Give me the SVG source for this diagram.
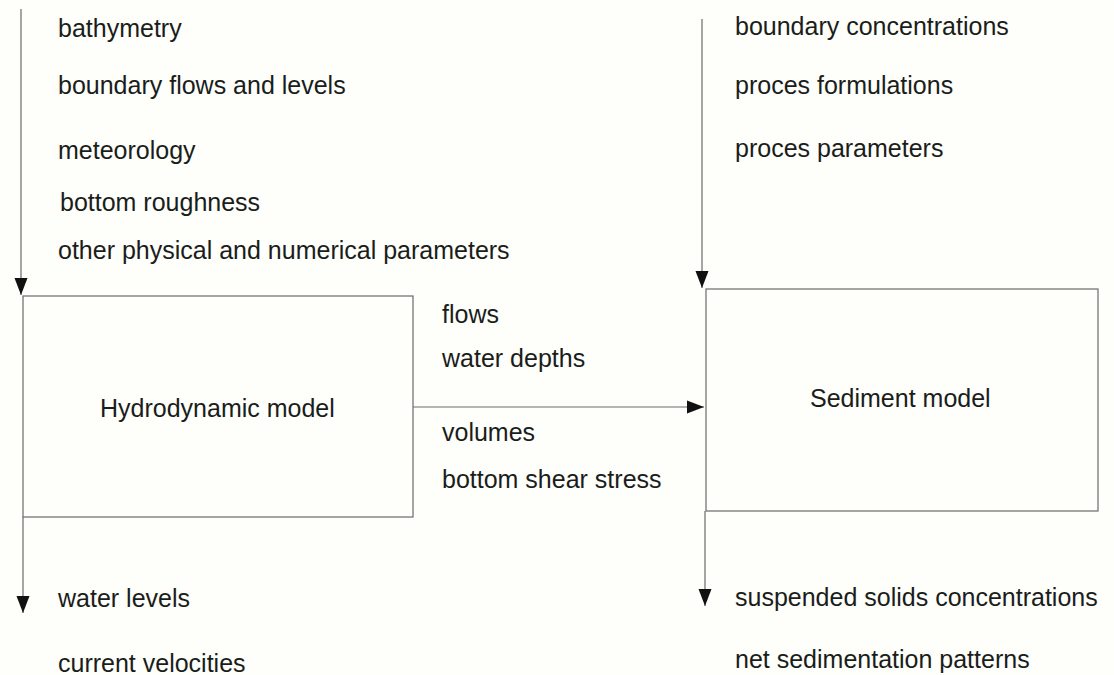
<svg xmlns="http://www.w3.org/2000/svg" width="1114" height="675" viewBox="0 0 1114 675">
  <style>
    .t { font-family: "Liberation Sans", Arial, sans-serif; font-size: 25px; fill: #1a1d1a; }
    .box { fill: none; stroke: #6a6a6a; stroke-width: 1.2; }
    .ln { fill: none; stroke: #6a6a6a; stroke-width: 1.2; }
  </style>
  <defs>
    <marker id="arr" markerUnits="userSpaceOnUse" markerWidth="18" markerHeight="14" refX="17" refY="7" orient="auto" viewBox="0 0 18 14">
      <path d="M0,0.5 L17,7 L0,13.5 z" fill="#111"/>
    </marker>
  </defs>
  <rect width="1114" height="675" fill="#fefefa"/>

  <g id="connectors">
    <line class="ln" x1="21" y1="9" x2="21" y2="295" marker-end="url(#arr)"/>
    <line class="ln" x1="702" y1="19" x2="702" y2="288" marker-end="url(#arr)"/>
    <line class="ln" x1="413" y1="407" x2="704" y2="407" marker-end="url(#arr)"/>
    <line class="ln" x1="23" y1="517" x2="23" y2="613" marker-end="url(#arr)"/>
    <line class="ln" x1="705" y1="511" x2="705" y2="606" marker-end="url(#arr)"/>
  </g>

  <g id="hydro-inputs">
    <text class="t" x="58" y="37">bathymetry</text>
    <text class="t" x="58" y="94">boundary flows and levels</text>
    <text class="t" x="58" y="159">meteorology</text>
    <text class="t" x="60" y="211">bottom roughness</text>
    <text class="t" x="58" y="259">other physical and numerical parameters</text>
  </g>

  <g id="sediment-inputs">
    <text class="t" x="735" y="35">boundary concentrations</text>
    <text class="t" x="735" y="94">proces formulations</text>
    <text class="t" x="735" y="157">proces parameters</text>
  </g>

  <g id="hydrodynamic-model">
    <rect class="box" x="23" y="296" width="390" height="221"/>
    <text class="t" x="100" y="417">Hydrodynamic model</text>
  </g>

  <g id="sediment-model">
    <rect class="box" x="706" y="289" width="392" height="222"/>
    <text class="t" x="810" y="407">Sediment model</text>
  </g>

  <g id="coupling-labels">
    <text class="t" x="442" y="323">flows</text>
    <text class="t" x="442" y="367">water depths</text>
    <text class="t" x="442" y="441">volumes</text>
    <text class="t" x="442" y="488">bottom shear stress</text>
  </g>

  <g id="hydro-outputs">
    <text class="t" x="58" y="607">water levels</text>
    <text class="t" x="58" y="672">current velocities</text>
  </g>

  <g id="sediment-outputs">
    <text class="t" x="735" y="606">suspended solids concentrations</text>
    <text class="t" x="735" y="668">net sedimentation patterns</text>
  </g>
</svg>
